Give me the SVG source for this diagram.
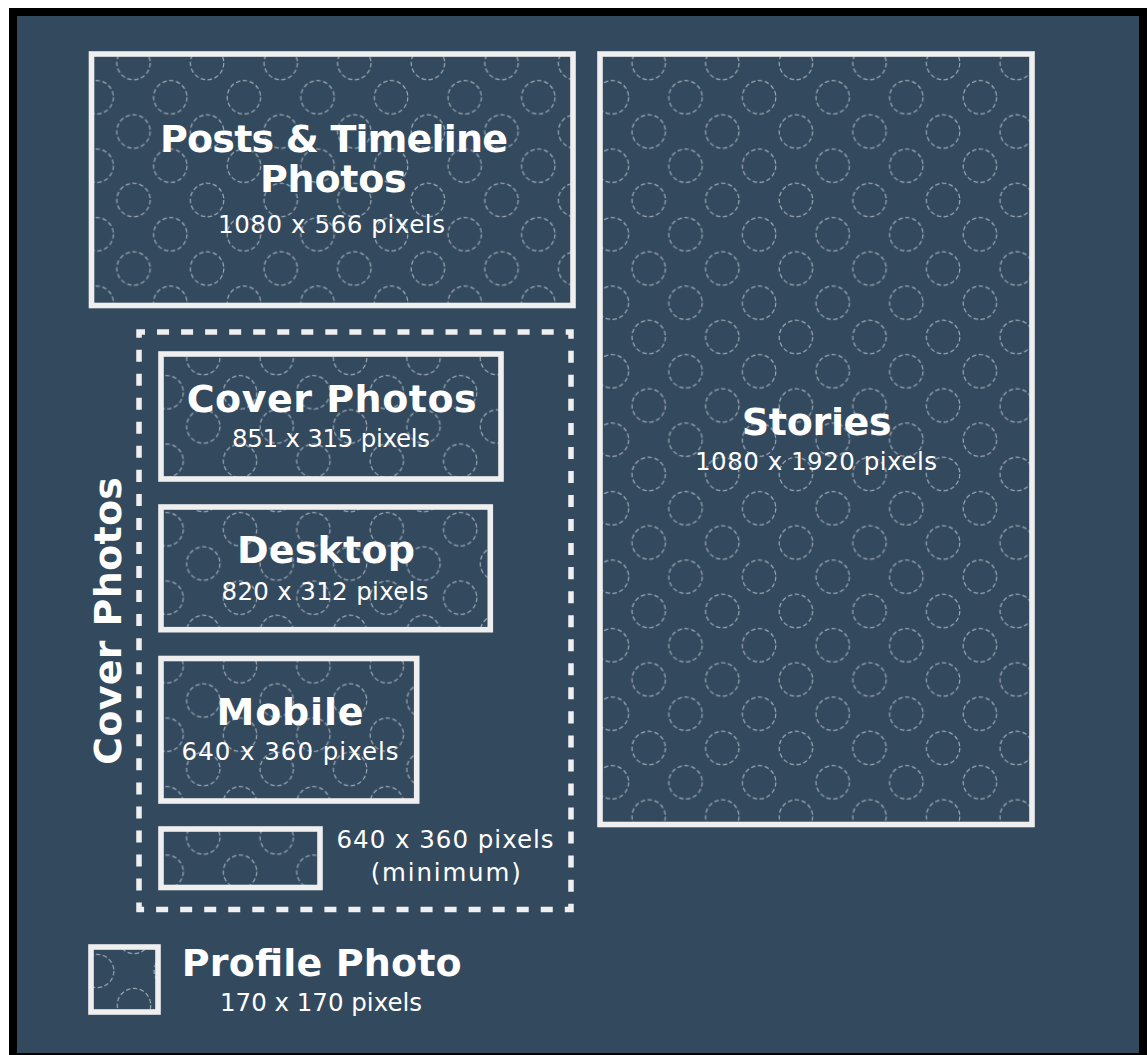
<svg xmlns="http://www.w3.org/2000/svg" width="1147" height="1055" viewBox="0 0 1147 1055">
<style>
.box{stroke:#efefef;stroke-width:5.6}
.dash{fill:none;stroke:#efefef;stroke-width:5.5;stroke-dasharray:12.02 12.02;stroke-dashoffset:6}
.ring{fill:none;stroke:#b4bec8;stroke-width:1.2;stroke-dasharray:4.5 2.5;opacity:0.8}
.h{font-family:"DejaVu Sans","Liberation Sans",sans-serif;font-weight:bold;font-size:38px;fill:#ffffff;text-anchor:middle}
.s{font-family:"DejaVu Sans","Liberation Sans",sans-serif;font-weight:normal;font-size:24.5px;fill:#ffffff;text-anchor:middle}
</style>
<defs>
<g id="tile">
<circle class="ring" cx="0" cy="0" r="16.7"/>
<circle class="ring" cx="73.6" cy="0" r="16.7"/>
<circle class="ring" cx="0" cy="68.5" r="16.7"/>
<circle class="ring" cx="73.6" cy="68.5" r="16.7"/>
<circle class="ring" cx="36.8" cy="34.25" r="16.7"/>
</g>
<pattern id="pA" patternUnits="userSpaceOnUse" x="133.5" y="63" width="73.6" height="68.5">
<rect width="73.6" height="68.5" fill="#33495e"/>
<use href="#tile"/>
</pattern>
<pattern id="pB" patternUnits="userSpaceOnUse" x="203.3" y="358" width="73.4" height="68.5">
<rect width="73.4" height="68.5" fill="#33495e"/>
<g transform="scale(0.99728,1)"><use href="#tile"/></g>
</pattern>
<pattern id="pC" patternUnits="userSpaceOnUse" x="134" y="937" width="73.6" height="68">
<rect width="73.6" height="68" fill="#33495e"/>
<g transform="scale(1,0.9927)"><use href="#tile"/></g>
</pattern>
</defs>

<rect width="1147" height="1055" fill="#ffffff"/>
<rect x="9" y="8" width="1138" height="1047" fill="#000000"/>
<rect x="17" y="16" width="1122" height="1037" fill="#33495e"/>

<g id="connectors"/>

<g id="posts">
<rect class="box" x="91.5" y="54" width="481.5" height="251.5" fill="url(#pA)"/>
<text class="h" x="334" y="151.5" textLength="348">Posts &amp; Timeline</text>
<text class="h" x="333.3" y="191.7" textLength="146.7">Photos</text>
<text class="s" x="331.5" y="233" textLength="227">1080 x 566 pixels</text>
</g>

<g id="stories">
<rect class="box" x="600" y="54" width="432" height="770.5" fill="url(#pA)"/>
<text class="h" x="816.7" y="435" textLength="150">Stories</text>
<text class="s" x="816" y="470" textLength="242">1080 x 1920 pixels</text>
</g>

<g id="cover-group">
<rect class="dash" x="139" y="332" width="432" height="577.5"/>
<text class="h" transform="translate(120.5,621) rotate(-90)" x="0" y="0" textLength="288">Cover Photos</text>
</g>

<g id="cover-photos">
<rect class="box" x="161" y="354" width="340" height="125" fill="url(#pB)"/>
<text class="h" x="331.7" y="411.7" textLength="290">Cover Photos</text>
<text class="s" x="331" y="446.7" textLength="198">851 x 315 pixels</text>
</g>

<g id="desktop">
<rect class="box" x="161" y="507" width="329.3" height="122.7" fill="url(#pB)"/>
<text class="h" x="326" y="563.3" textLength="178">Desktop</text>
<text class="s" x="325" y="600" textLength="207">820 x 312 pixels</text>
</g>

<g id="mobile">
<rect class="box" x="161" y="658.5" width="255.7" height="142.5" fill="url(#pB)"/>
<text class="h" x="290" y="725" textLength="147">Mobile</text>
<text class="s" x="290" y="760" textLength="217">640 x 360 pixels</text>
</g>

<g id="minimum">
<rect class="box" x="161" y="829" width="159" height="58.5" fill="url(#pB)"/>
<text class="s" x="445" y="848.3" textLength="217">640 x 360 pixels</text>
<text class="s" x="445.7" y="881" textLength="150">(minimum)</text>
</g>

<g id="profile-photo">
<rect class="box" x="91" y="947" width="67" height="65" fill="url(#pC)"/>
<text class="h" x="321.7" y="976" textLength="280">Profile Photo</text>
<text class="s" x="321" y="1010.7" textLength="202">170 x 170 pixels</text>
</g>
</svg>
